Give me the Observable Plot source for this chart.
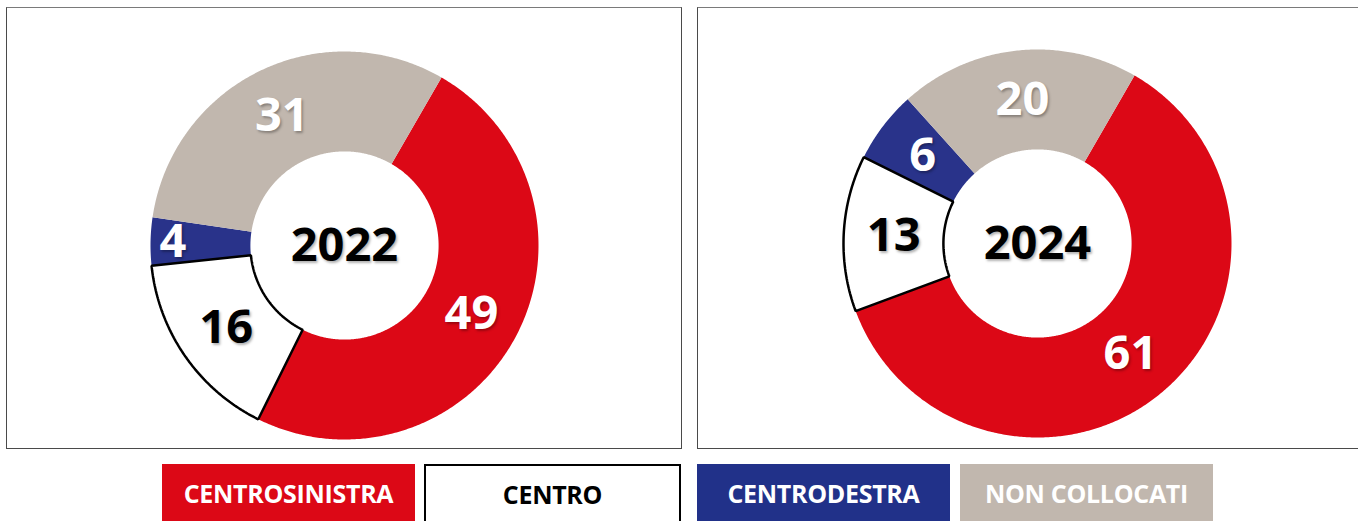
<!DOCTYPE html>
<html>
<head>
<meta charset="utf-8">
<script src="https://cdn.jsdelivr.net/npm/d3@7"></script>
<script src="https://cdn.jsdelivr.net/npm/@observablehq/plot@0.6"></script>
<style>
  html, body { margin: 0; padding: 0; background: #fff; width: 1358px; height: 521px; overflow: hidden; }
  body { position: relative; font-family: "Open Sans", sans-serif; }
  .panel { position: absolute; box-sizing: border-box; border: 1.5px solid #4a4a4a; border-top-color: #7a7a7a; }
  .plotwrap { position: absolute; }
  .plotwrap svg { max-width: none !important; }
  .plotwrap svg text { text-shadow: 1.5px 2px 2.5px rgba(0,0,0,0.3); }
  .legend { position: absolute; box-sizing: border-box; height: 57px; top: 464px; display: flex; align-items: center; justify-content: center; font-weight: 700; font-size: 25px; letter-spacing: -0.3px; }
</style>
</head>
<body>
<div id="root"></div>
<script>
// ---- data ----
const categories = ["CENTROSINISTRA", "CENTRO", "CENTRODESTRA", "NON COLLOCATI"];
const years = ["2022", "2024"];
const values2022 = [49, 16, 4, 31];
const values2024 = [61, 13, 6, 20];
const colors = ["#dc0816", "#ffffff", "#29338a", "#c1b7ae"];
const legendColors = ["#dc0816", "#ffffff", "#213189", "#c1b7ae"];
const textColors = ["#ffffff", "#000000", "#ffffff", "#ffffff"];

// ---- layout ----
const startAngle = 30;     // degrees, clockwise from top
const outerPx = 194;       // outer radius, pixels
const innerFrac = 0.485;   // inner radius / outer radius

const panels = [
  {year: years[0], values: values2022, left: 6, top: 7, w: 676, pw: 676, h: 443, cx: 344, cy: 245},
  {year: years[1], values: values2024, left: 697, top: 7, w: 680, pw: 661, h: 443, cx: 1037, cy: 243}
];

const root = document.getElementById("root");

function rad(a) { return a * Math.PI / 180; }

panels.forEach(p => {
  const box = document.createElement("div");
  box.className = "panel";
  Object.assign(box.style, {left: p.left + "px", top: p.top + "px", width: p.w + "px", height: (p.h - 1) + "px"});
  root.appendChild(box);

  const total = d3.sum(p.values);
  const poly = [];
  const labels = [];
  let acc = 0;
  p.values.forEach((v, i) => {
    const a0 = startAngle + acc / total * 360;
    const a1 = startAngle + (acc + v) / total * 360;
    acc += v;
    const n = Math.max(4, Math.ceil((a1 - a0) / 0.5));
    const pts = [];
    for (let k = 0; k <= n; k++) {
      const a = rad(a0 + (a1 - a0) * k / n);
      pts.push({cat: categories[i], x: Math.sin(a), y: Math.cos(a)});
    }
    for (let k = n; k >= 0; k--) {
      const a = rad(a0 + (a1 - a0) * k / n);
      pts.push({cat: categories[i], x: innerFrac * Math.sin(a), y: innerFrac * Math.cos(a)});
    }
    poly.push(...pts);
    const am = rad((a0 + a1) / 2);
    const r = v < 5 ? 0.885 : (1 + innerFrac) / 2;
    labels.push({cat: categories[i], value: v, x: r * Math.sin(am), y: r * Math.cos(am), color: textColors[i]});
  });

  const cxL = p.cx - p.left, cyL = p.cy - p.top;
  const chart = Plot.plot({
    width: p.pw,
    height: p.h,
    margin: 0,
    x: {domain: [-cxL / outerPx, (p.pw - cxL) / outerPx], axis: null},
    y: {domain: [-(p.h - cyL) / outerPx, cyL / outerPx], axis: null},
    color: {domain: categories, range: colors},
    style: {background: "transparent", fontFamily: "'Open Sans', sans-serif", overflow: "visible"},
    marks: [
      Plot.line(poly.filter(d => d.cat !== "CENTRO"), {x: "x", y: "y", z: "cat", fill: "cat", stroke: null, curve: "linear-closed"}),
      Plot.line(poly.filter(d => d.cat === "CENTRO"), {x: "x", y: "y", z: "cat", fill: "#ffffff", stroke: "#000000", strokeWidth: 2.5, strokeLinejoin: "miter", curve: "linear-closed"}),
      Plot.text(labels, {x: "x", y: "y", text: d => String(d.value), fill: "color", fontSize: 47, fontWeight: 700}),
      Plot.text([p.year], {x: [0], y: [0], text: d => d, fill: "#000000", fontSize: 47, fontWeight: 700})
    ]
  });
  const wrap = document.createElement("div");
  wrap.className = "plotwrap";
  Object.assign(wrap.style, {left: p.left + "px", top: p.top + "px", width: p.pw + "px", height: p.h + "px"});
  wrap.appendChild(chart);
  root.appendChild(wrap);
});

// ---- legend ----
const legendBoxes = [
  {left: 162, width: 253},
  {left: 424, width: 257},
  {left: 697, width: 253},
  {left: 960, width: 253}
];
categories.forEach((c, i) => {
  const d = document.createElement("div");
  d.className = "legend";
  d.textContent = c;
  Object.assign(d.style, {
    left: legendBoxes[i].left + "px",
    width: legendBoxes[i].width + "px",
    background: legendColors[i],
    color: textColors[i],
    border: c === "CENTRO" ? "2px solid #000" : "none",
    borderBottom: "none"
  });
  root.appendChild(d);
});
</script>
</body>
</html>
